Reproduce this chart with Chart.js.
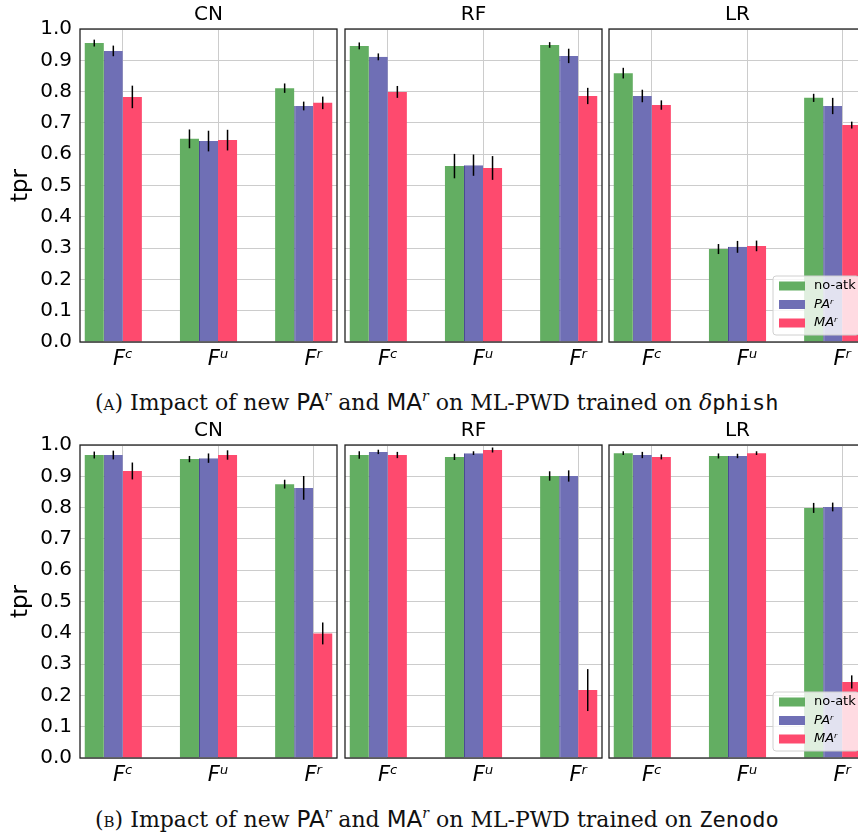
<!DOCTYPE html>
<html>
<head>
<meta charset="utf-8">
<script src="https://cdn.jsdelivr.net/npm/chart.js@4/dist/chart.umd.min.js"></script>
<style>
html, body { margin: 0; padding: 0; background: #fff; width: 858px; height: 834px; overflow: hidden; }
canvas { position: absolute; }
.cap { position: absolute; left: 95px; font-family: 'DejaVu Serif', serif; font-size: 22px; white-space: nowrap; color: #111; }
.cap .sc { font-variant: small-caps; }
.cap .sf { font-family: 'DejaVu Sans', sans-serif; font-size: 23px; }
.cap .sup { font-family: 'DejaVu Serif', serif; font-size: 14px; vertical-align: 9px; }
.cap .tt { font-family: 'DejaVu Sans Mono', monospace; }
</style>
</head>
<body>
<canvas id="a0" width="340" height="380" style="left:0;top:0"></canvas>
<canvas id="a1" width="263" height="380" style="left:342px;top:0"></canvas>
<canvas id="a2" width="263" height="380" style="left:606px;top:0"></canvas>
<div class="cap" style="top:388px"><span class="sc">(a)</span> Impact of new <span class="sf">PA<i class="sup">r</i></span> and <span class="sf">MA<i class="sup">r</i></span> on ML-PWD trained on <i>δ</i><span class="tt">phish</span></div>
<canvas id="b0" width="340" height="380" style="left:0;top:416px"></canvas>
<canvas id="b1" width="263" height="380" style="left:342px;top:416px"></canvas>
<canvas id="b2" width="263" height="380" style="left:606px;top:416px"></canvas>
<div class="cap" style="top:805px"><span class="sc">(b)</span> Impact of new <span class="sf">PA<i class="sup">r</i></span> and <span class="sf">MA<i class="sup">r</i></span> on ML-PWD trained on <span class="tt">Zenodo</span></div>

<script>
// feature sets on the x axis, one panel per model
const categories = ['Fᶜ', 'Fᵘ', 'Fʳ'];
const models = ['CN', 'RF', 'LR'];
const seriesNames = ['no-atk', 'PAʳ', 'MAʳ'];
const seriesColors = ['#63ae62', '#6f6fb5', '#fe4a6e'];
const seriesEdges = ['#63ae62', '#4a4a92', '#fe4a6e'];

// δphish  -- rows are CN, RF, LR; columns Fc, Fu, Fr
const phishNoAtk = [[0.955, 0.649, 0.811], [0.946, 0.562, 0.949], [0.859, 0.297, 0.780]];
const phishNoAtkErr = [[0.011, 0.030, 0.015], [0.011, 0.039, 0.009], [0.017, 0.016, 0.013]];
const phishPA = [[0.930, 0.642, 0.754], [0.911, 0.565, 0.914], [0.786, 0.304, 0.754]];
const phishPAErr = [[0.017, 0.033, 0.014], [0.011, 0.034, 0.023], [0.020, 0.019, 0.026]];
const phishMA = [[0.783, 0.645, 0.764], [0.799, 0.556, 0.786], [0.757, 0.307, 0.693]];
const phishMAErr = [[0.036, 0.033, 0.020], [0.019, 0.038, 0.026], [0.015, 0.017, 0.011]];

// Zenodo
const zenNoAtk = [[0.968, 0.955, 0.875], [0.968, 0.962, 0.901], [0.974, 0.965, 0.799]];
const zenNoAtkErr = [[0.011, 0.010, 0.014], [0.012, 0.010, 0.015], [0.006, 0.008, 0.016]];
const zenPA = [[0.968, 0.958, 0.863], [0.978, 0.974, 0.901], [0.968, 0.965, 0.802]];
const zenPAErr = [[0.014, 0.015, 0.038], [0.007, 0.006, 0.018], [0.010, 0.007, 0.014]];
const zenMA = [[0.917, 0.968, 0.398], [0.968, 0.984, 0.217], [0.962, 0.974, 0.243]];
const zenMAErr = [[0.027, 0.015, 0.035], [0.010, 0.008, 0.067], [0.008, 0.006, 0.021]];

Chart.defaults.font.family = "'DejaVu Sans', sans-serif";
Chart.defaults.color = '#000';
const gridColor = '#cccccc';

const frame = {
    id: 'frame',
    afterDatasetsDraw(chart) {
        const { ctx, chartArea: a } = chart;
        ctx.save();
        ctx.strokeStyle = '#222';
        ctx.lineWidth = 1.3;
        ctx.strokeRect(a.left, a.top, a.right - a.left, a.bottom - a.top);
        ctx.restore();
    }
};

const errorBars = {
    id: 'errorBars',
    afterDatasetsDraw(chart) {
        const { ctx } = chart;
        const y = chart.scales.y;
        ctx.save();
        ctx.strokeStyle = '#000';
        ctx.lineWidth = 1.5;
        chart.data.datasets.forEach((ds, d) => {
            chart.getDatasetMeta(d).data.forEach((bar, i) => {
                const v = ds.data[i].y;
                const e = ds.errors[i];
                ctx.beginPath();
                ctx.moveTo(bar.x, y.getPixelForValue(v - e));
                ctx.lineTo(bar.x, y.getPixelForValue(v + e));
                ctx.stroke();
            });
        });
        ctx.restore();
    }
};

// legend box in the lower right corner of the plot
const cornerLegend = {
    id: 'cornerLegend',
    afterDraw(chart, args, opts) {
        if (!opts.show) return;
        const { ctx, chartArea: a } = chart;
        const w = 86, h = 59;
        const x = a.right - 7 - w, y = a.bottom - 7 - h;
        ctx.save();
        ctx.beginPath();
        ctx.roundRect(x, y, w, h, 3);
        ctx.fillStyle = 'rgba(255,255,255,0.8)';
        ctx.fill();
        ctx.strokeStyle = '#d0d0d0';
        ctx.lineWidth = 1;
        ctx.stroke();
        chart.data.datasets.forEach((ds, i) => {
            const cy = y + 10 + i * 18.5;
            ctx.fillStyle = ds.backgroundColor;
            ctx.fillRect(x + 6, cy - 4.5, 26, 9);
            ctx.fillStyle = '#000';
            ctx.font = (i === 0 ? '' : 'italic ') + "13px 'DejaVu Sans'";
            ctx.textBaseline = 'middle';
            ctx.fillText(ds.label, x + 41, cy);
        });
        ctx.restore();
    }
};

function makePanel(id, m, vals, errs, showY, showLegend) {
    return new Chart(document.getElementById(id), {
        type: 'bar',
        data: {
            datasets: seriesNames.map((name, s) => ({
                label: name,
                data: categories.map((c, i) => ({ x: i - 0.1, y: vals[s][m][i] })),
                errors: errs[s][m],
                backgroundColor: seriesColors[s],
                borderColor: seriesEdges[s],
                borderWidth: { left: s === 1 ? 1 : 0, top: 0, right: 0, bottom: 0 },
                borderSkipped: false,
                categoryPercentage: 0.6,
                barPercentage: 1
            }))
        },
        options: {
            responsive: false,
            animation: false,
            layout: { padding: { left: 0, right: 3, top: 0, bottom: 8 } },
            scales: {
                x: {
                    type: 'linear',
                    min: -0.45,
                    max: 2.25,
                    offset: false,
                    afterBuildTicks: s => { s.ticks = categories.map((c, i) => ({ value: i })); },
                    afterFit: s => { s.height = 30; },
                    grid: { color: gridColor, drawTicks: false, offset: false },
                    border: { display: false },
                    ticks: {
                        callback: v => categories[Math.round(v)],
                        font: { size: 21, style: 'italic' },
                        padding: 5,
                        maxRotation: 0,
                        autoSkip: false
                    }
                },
                y: {
                    min: 0,
                    max: 1,
                    afterFit: s => { s.width = showY ? 80 : 3; },
                    grid: { color: gridColor, drawTicks: false },
                    border: { display: false },
                    ticks: {
                        display: showY,
                        stepSize: 0.1,
                        callback: v => v.toFixed(1),
                        font: { size: 20 },
                        padding: 8
                    },
                    title: {
                        display: showY,
                        text: 'tpr',
                        font: { size: 23 },
                        padding: { top: 7, bottom: 0 }
                    }
                }
            },
            plugins: {
                legend: { display: false },
                tooltip: { enabled: false },
                title: {
                    display: true,
                    text: models[m],
                    fullSize: false,
                    font: { size: 20, weight: 'normal' },
                    padding: { top: 3, bottom: 2 }
                },
                cornerLegend: { show: showLegend }
            }
        },
        plugins: [frame, errorBars, cornerLegend]
    });
}

const phishVals = [phishNoAtk, phishPA, phishMA];
const phishErrs = [phishNoAtkErr, phishPAErr, phishMAErr];
const zenVals = [zenNoAtk, zenPA, zenMA];
const zenErrs = [zenNoAtkErr, zenPAErr, zenMAErr];

models.forEach((name, m) => {
    makePanel('a' + m, m, phishVals, phishErrs, m === 0, m === 2);
    makePanel('b' + m, m, zenVals, zenErrs, m === 0, m === 2);
});
</script>
</body>
</html>
